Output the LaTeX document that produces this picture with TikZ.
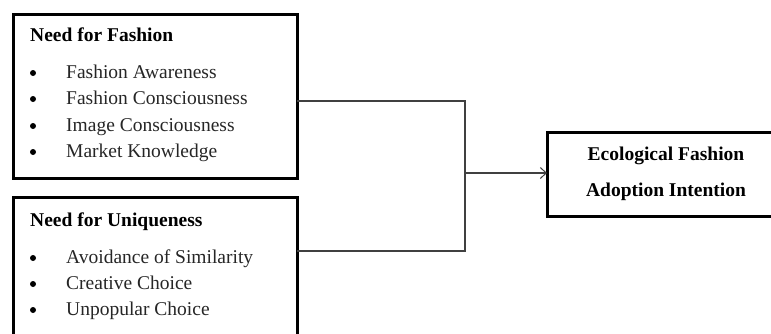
\documentclass[tikz,border=0pt]{standalone}
\usepackage{fontspec}
\setmainfont{Liberation Serif}
\usetikzlibrary{arrows.meta}
\begin{document}
\begin{tikzpicture}[x=1pt,y=-1pt,
  box/.style={draw=black,line width=3pt},
  head/.style={anchor=base west,inner sep=0pt,font=\fontsize{19.5}{22}\selectfont\bfseries},
  item/.style={anchor=base west,inner sep=0pt,font=\fontsize{19.5}{22}\selectfont,text=black!85},
  bul/.style={circle,fill=black,inner sep=0pt,minimum size=6pt},
  conn/.style={draw=black!75,line width=1.3pt},
  ttl/.style={anchor=base,inner sep=0pt,font=\fontsize{19.5}{22}\selectfont\bfseries}]
\useasboundingbox (0,0) rectangle (771,333);
\begin{scope}
\clip (0,0) rectangle (771,333);
\draw[box] (13,14) rectangle (297,178);
\draw[box] (13,197) rectangle (297,345);
\draw[box] (547,132) rectangle (780,216);
\coordinate (b1) at (297,101);
\coordinate (b2) at (297,251);
\coordinate (j1) at (465,101);
\coordinate (j2) at (465,251);
\coordinate (jm) at (465,173);
\coordinate (b3) at (547,173);
\end{scope}
\node[head] (h1) at (30,41) {Need for Fashion};
\node[bul] (d1) at (33,73) {};
\node[bul] (d2) at (33,99) {};
\node[bul] (d3) at (33,126) {};
\node[bul] (d4) at (33,152) {};
\node[item] (i1) at (66,78) {Fashion Awareness};
\node[item] (i2) at (66,104) {Fashion Consciousness};
\node[item] (i3) at (66,131) {Image Consciousness};
\node[item] (i4) at (66,157) {Market Knowledge};
\node[head] (h2) at (30,226) {Need for Uniqueness};
\node[bul] (e1) at (33,258) {};
\node[bul] (e2) at (33,284) {};
\node[bul] (e3) at (33,310) {};
\node[item] (k1) at (66,263) {Avoidance of Similarity};
\node[item] (k2) at (66,289) {Creative Choice};
\node[item] (k3) at (66,315) {Unpopular Choice};
\node[ttl] (t1) at (666,160) {Ecological Fashion};
\node[ttl] (t2) at (666,196) {Adoption Intention};
\draw[conn] (b1) -- (j1) -- (j2) -- (b2);
\draw[conn,-{Straight Barb[length=6pt,width=11pt,line width=1pt]}] (jm) -- (b3);
\end{tikzpicture}
\end{document}
